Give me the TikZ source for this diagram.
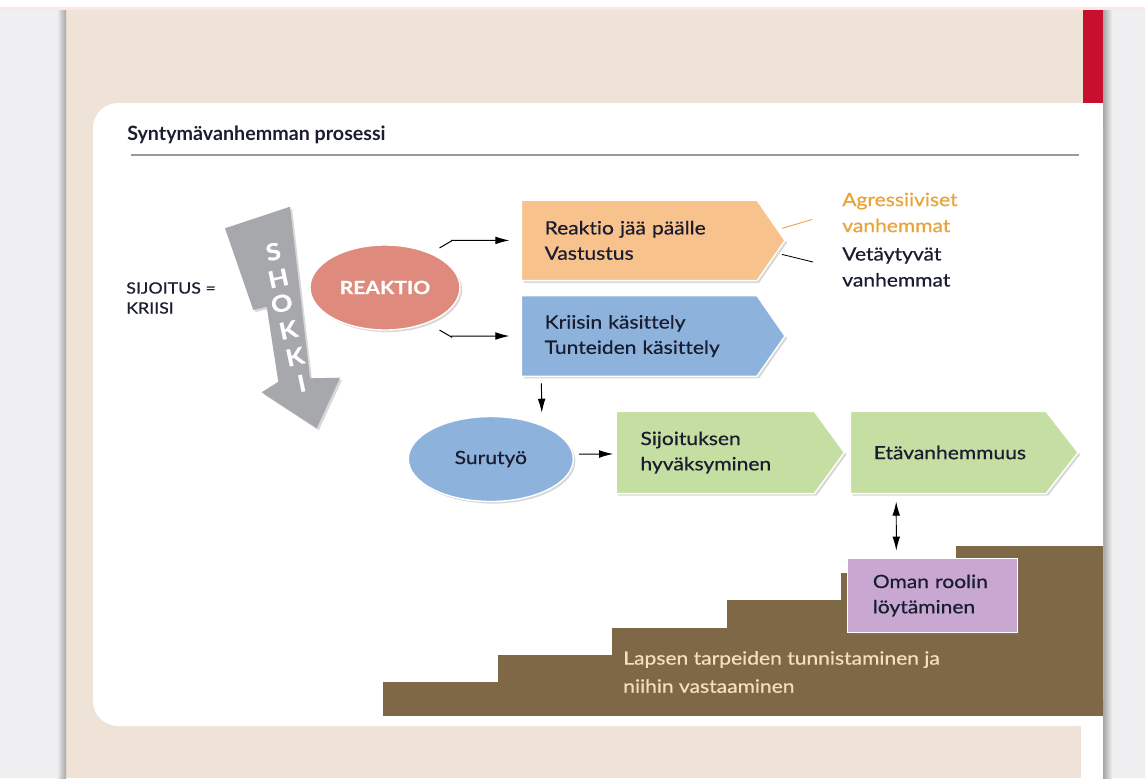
\documentclass[tikz,border=0pt]{standalone}
\usepackage{fontspec}
\setmainfont{Lato}[FakeStretch=1.15, FakeBold=0.6, Ligatures=NoCommon]
\newfontfamily\titlefont{Lato}[Ligatures=NoCommon]
\usetikzlibrary{shapes.geometric,shadows,arrows.meta,backgrounds}

\definecolor{outergray}{HTML}{EFEFF1}
\definecolor{paperbeige}{HTML}{EFE3D8}
\definecolor{markred}{HTML}{C8102E}
\definecolor{rulegray}{HTML}{9A9A9A}
\definecolor{ink}{HTML}{1A1C30}
\definecolor{salmon}{HTML}{DE8A7C}
\definecolor{orangebox}{HTML}{F7C28C}
\definecolor{bluebox}{HTML}{8DB3DD}
\definecolor{greenbox}{HTML}{C5DEA2}
\definecolor{purplebox}{HTML}{C8A7D0}
\definecolor{stairbrown}{HTML}{7F6845}
\definecolor{stairtext}{HTML}{F4DFC0}
\definecolor{shockgray}{HTML}{A7A8AB}
\definecolor{labelorange}{HTML}{E8A33A}

\pgfdeclarelayer{paper}
\pgfdeclarelayer{back}
\pgfsetlayers{paper,back,main}

\begin{document}
\begin{tikzpicture}
[x=0.025cm, y=-0.025cm, >={Latex[length=10pt,width=5.5pt]},
conn/.style={->, line width=0.7pt, black},
shadowed/.style={drop shadow={opacity=0.3, shadow xshift=1.5pt, shadow yshift=-1.5pt}},
chevron/.style={rectangle, minimum height=2cm, align=left, text=ink, font=\fontsize{13}{18}\selectfont},
bubble/.style={ellipse, draw=white, line width=1pt, inner sep=0pt, minimum width=3.75cm, minimum height=2.125cm, shadowed},
sidenote/.style={anchor=west, inner sep=0pt, align=left, font=\fontsize{13}{18.5}\selectfont},
shockletter/.style={text=white, rotate=12, inner sep=0pt, font=\bfseries\fontsize{16.5}{16.5}\selectfont}]

\useasboundingbox (0,0) rectangle (1145,778);

\begin{pgfonlayer}{paper}
\fill[outergray] (0,0) rectangle (1145,778);
\fill[white] (0,0) rectangle (1145,7);
\fill[red!10] (0,7) rectangle (1145,10);
\fill[paperbeige] (66,10) rectangle (1103,778);
\shade[left color=outergray, right color=black!35] (57,10) rectangle (66,778);
\shade[left color=black!35, right color=outergray] (1103,10) rectangle (1112,778);
\fill[markred] (1083,10) rectangle (1103,103);
\fill[white, rounded corners=0.625cm] (93,103) rectangle (1103,726);
\fill[white] (1081,103) rectangle (1103,778);
\end{pgfonlayer}

\node[anchor=west, inner sep=0pt, text=ink, font=\titlefont\bfseries\fontsize{14}{16}\selectfont] (otsikko) at (127,135) {Syntymävanhemman prosessi};
\draw[rulegray, line width=1.2pt] (131,155) -- (1079,155);

\node[anchor=west, inner sep=0pt, align=left, text=ink, font=\fontsize{11}{14.2}\selectfont] (sijoitus) at (126,298) {SIJOITUS =\\KRIISI};

% shokki
\filldraw[fill=shockgray, draw=none, shadowed] (225,228.3) -- (290,206.7) -- (310,378.3) -- (340,377.7) -- (316.7,428.3) -- (261.7,392.3) -- (278.3,381.7) -- (266.7,306.7) -- (253.3,310) -- cycle;
\foreach \ch/\px/\py [count=\i] in {S/273.3/251.7, H/278.3/278.3, O/281.7/303.3, K/288.3/330, K/295/356.7, I/301.7/383.3}
  \node[shockletter] (shokki\i) at (\px,\py) {\ch};

% portaat
\foreach \i in {0,...,5}
  \fill[stairbrown] (383+\i*114.6,682-\i*27.2) rectangle (1103,716);

\node[bubble, fill=salmon, text=white, font=\bfseries\fontsize{13}{15}\selectfont] (reaktio) at (385,287.5) {REAKTIO};
\node[chevron, minimum width=5.875cm, inner xsep=0.575cm, text width=4.725cm] (vastustus) at (639.2,240.4) {Reaktio jää päälle\\Vastustus};
\node[chevron, minimum width=5.875cm, inner xsep=0.575cm, text width=4.725cm] (kasittely) at (639.2,336) {Kriisin käsittely\\Tunteiden käsittely};
\node[sidenote, text=labelorange] (agressiiviset) at (842,212.5) {Agressiiviset\\vanhemmat};
\node[sidenote, text=ink] (vetaytyvat) at (842,267) {Vetäytyvät\\vanhemmat};
\node[bubble, fill=bluebox, text=ink, minimum width=4.125cm, font=\fontsize{13}{15}\selectfont] (surutyo) at (490.8,459) {Surutyö};
\node[chevron, minimum width=4.94cm, minimum height=2.04cm, inner xsep=0.6cm, text width=3.74cm] (hyvaksyminen) at (715.3,452.5) {Sijoituksen\\hyväksyminen};
\node[chevron, minimum width=4.88cm, minimum height=2.04cm, inner xsep=0.58cm, text width=3.72cm] (etavanhemmuus) at (948.2,452.5) {Etävanhemmuus};
\node[rectangle, fill=purplebox, draw=white, line width=1pt, minimum width=4.25cm, minimum height=1.86cm, inner xsep=0.64cm, text width=2.97cm, align=left, text=ink, font=\fontsize{13}{18}\selectfont, shadowed] (rooli) at (932.3,595.5) {Oman roolin\\löytäminen};
\node[anchor=west, inner sep=0pt, align=left, text=stairtext, font=\fontsize{13}{20}\selectfont] (tarpeet) at (623,672) {Lapsen tarpeiden tunnistaminen ja\\niihin vastaaminen};

\begin{pgfonlayer}{back}
\foreach \n/\c/\d in {vastustus/orangebox/28, kasittely/bluebox/28, hyvaksyminen/greenbox/30, etavanhemmuus/greenbox/32}
  \filldraw[fill=\c, draw=white, line width=1pt, shadowed] (\n.north west) -- (\n.north east) -- ([shift={(\d,0)}]\n.east) -- (\n.south east) -- (\n.south west) -- cycle;
\end{pgfonlayer}

\draw[conn, shorten >=0.3cm] ([shift={(1,-9)}]reaktio.north east) -- ++(12,-7) |- (vastustus.west);
\draw[conn, shorten >=0.3cm] ([shift={(1,12)}]reaktio.south east) -- ++(12,7) |- (kasittely.west);
\draw[conn] ([shift={(20,7)}]kasittely.south west) -- ([shift={(51,-3)}]surutyo.north);
\draw[conn] ([shift={(5,-5)}]surutyo.east) -- ([shift={(-3,1.5)}]hyvaksyminen.west);
\draw[conn, <->] ([shift={(-52,8)}]etavanhemmuus.south) -- ([shift={(-36,-7)}]rooli.north);
\draw[labelorange, line width=0.6pt] ([shift={(25,-12)}]vastustus.east) -- ([shift={(-30,7)}]agressiiviset.west);
\draw[line width=0.6pt] ([shift={(25,14)}]vastustus.east) -- ([shift={(-29,-5)}]vetaytyvat.west);
\end{tikzpicture}
\end{document}
